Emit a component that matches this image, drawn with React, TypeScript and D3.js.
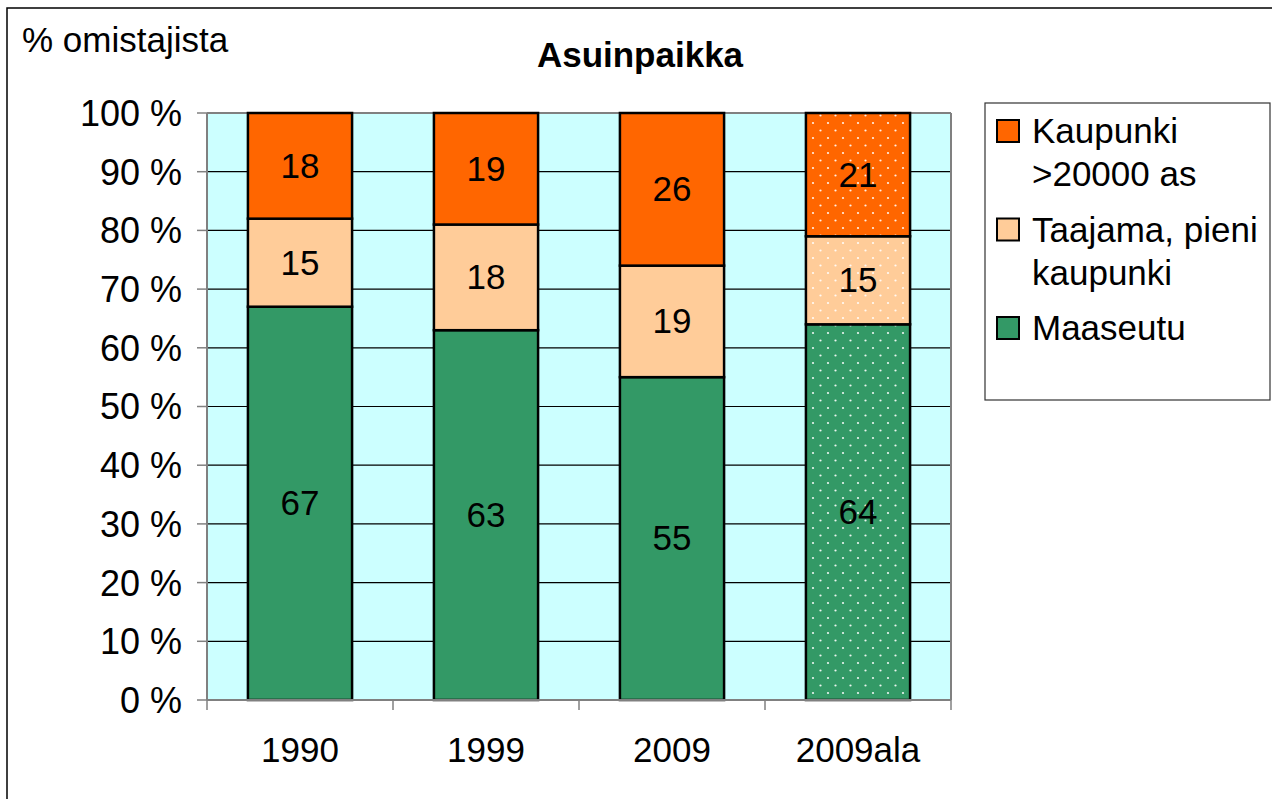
import React from "react";
import * as d3 from "d3";

// Years / groups along the x axis
const categories = ["1990", "1999", "2009", "2009ala"];

// Share of owners (%) by place of residence
const maaseutu = [67, 63, 55, 64];
const taajama = [15, 18, 19, 15];
const kaupunki = [18, 19, 26, 21];

const seriesNames = ["Maaseutu", "Taajama, pieni kaupunki", "Kaupunki >20000 as"];
const legendLines = [["Kaupunki", ">20000 as"], ["Taajama, pieni", "kaupunki"], ["Maaseutu"]];
const yTicks = [0, 10, 20, 30, 40, 50, 60, 70, 80, 90, 100];

const colors = ["#339966", "#FFCC99", "#FF6600"];
const dotted = ["2009ala"];

const FONT = "'Liberation Sans', Arial, sans-serif";

export default function App() {
  const W = 1272;
  const H = 799;
  const plot = { left: 207, right: 951, top: 113, bottom: 700 };

  const x = d3.scaleBand().domain(categories).range([plot.left, plot.right]).paddingInner(0.44).paddingOuter(0.22);
  const y = d3.scaleLinear().domain([0, 100]).range([plot.bottom, plot.top]);

  const rows = categories.map((c, i) => ({ cat: c, Maaseutu: maaseutu[i], Taajama: taajama[i], Kaupunki: kaupunki[i] }));
  const stack = d3.stack<any>().keys(["Maaseutu", "Taajama", "Kaupunki"])(rows);

  const step = (plot.right - plot.left) / categories.length;

  return (
    <svg width={W} height={H} style={{ position: "absolute", left: 0, top: 0, background: "#fff" }} fontFamily={FONT}>
      <defs>
        <pattern id="dots" width={15} height={15} patternUnits="userSpaceOnUse">
          <circle cx={3} cy={3} r={1.1} fill="#fff" opacity={0.9} />
          <circle cx={10.5} cy={10.5} r={1.1} fill="#fff" opacity={0.9} />
        </pattern>
      </defs>

      {/* outer chart frame */}
      <rect x={7} y={8} width={W + 20} height={H + 20} fill="#fff" stroke="#000" strokeWidth={1.5} />

      <text x={22} y={52} fontSize={35}>% omistajista</text>
      <text x={640} y={67} fontSize={35} fontWeight="bold" textAnchor="middle">Asuinpaikka</text>

      {/* plot area */}
      <rect x={plot.left} y={plot.top} width={plot.right - plot.left} height={plot.bottom - plot.top} fill="#CCFFFF" />
      {yTicks.filter(t => t > 0 && t < 100).map(t => (
        <line key={t} x1={plot.left} x2={plot.right} y1={y(t)} y2={y(t)} stroke="#000" strokeWidth={1.2} />
      ))}
      <line x1={plot.left} x2={plot.right} y1={plot.top} y2={plot.top} stroke="#808080" strokeWidth={2} />
      <line x1={plot.right} x2={plot.right} y1={plot.top} y2={plot.bottom} stroke="#808080" strokeWidth={2} />

      {/* bars */}
      {stack.map((s, si) => (
        <g key={si}>
          {s.map((d, i) => {
            const cat = categories[i];
            const bx = x(cat)!;
            const by = y(d[1]);
            const bh = y(d[0]) - y(d[1]);
            const val = d[1] - d[0];
            return (
              <g key={cat}>
                <rect x={bx} y={by} width={x.bandwidth()} height={bh} fill={colors[si]} />
                {dotted.includes(cat) && <rect x={bx} y={by} width={x.bandwidth()} height={bh} fill="url(#dots)" />}
                <rect x={bx} y={by} width={x.bandwidth()} height={bh} fill="none" stroke="#000" strokeWidth={2.5} />
                <text x={bx + x.bandwidth() / 2} y={(by + y(d[0])) / 2} dy="0.34em" fontSize={35} textAnchor="middle">{val}</text>
              </g>
            );
          })}
        </g>
      ))}

      {/* y axis */}
      <line x1={plot.left} x2={plot.left} y1={plot.top} y2={plot.bottom} stroke="#808080" strokeWidth={2} />
      {yTicks.map(t => (
        <g key={t}>
          <line x1={plot.left - 10} x2={plot.left} y1={y(t)} y2={y(t)} stroke="#808080" strokeWidth={1.5} />
          <text x={182} y={y(t)} dy="0.36em" fontSize={36} textAnchor="end">{t} %</text>
        </g>
      ))}

      {/* x axis */}
      <line x1={plot.left} x2={plot.right} y1={plot.bottom} y2={plot.bottom} stroke="#808080" strokeWidth={2} />
      {d3.range(categories.length + 1).map(i => (
        <line key={i} x1={plot.left + i * step} x2={plot.left + i * step} y1={plot.bottom} y2={plot.bottom + 10} stroke="#808080" strokeWidth={1.5} />
      ))}
      {categories.map(c => (
        <text key={c} x={x(c)! + x.bandwidth() / 2} y={762} fontSize={35} textAnchor="middle">{c}</text>
      ))}

      {/* legend */}
      <rect x={985} y={103} width={285} height={297} fill="#fff" stroke="#333" strokeWidth={1.2} />
      {[2, 1, 0].map((si, k) => (
        <g key={seriesNames[si]} transform={`translate(997, ${120 + k * 98.5})`}>
          <rect x={0} y={0} width={22} height={22} fill={colors[si]} stroke="#000" strokeWidth={2} />
          {legendLines[k].map((ln, j) => (
            <text key={j} x={35} y={23 + j * 43} fontSize={35}>{ln}</text>
          ))}
        </g>
      ))}
    </svg>
  );
}
